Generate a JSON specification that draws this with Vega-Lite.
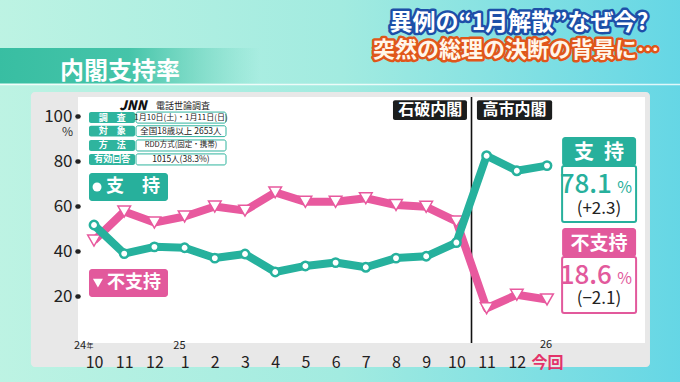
{
"$schema": "https://vega.github.io/schema/vega-lite/v6.json",
"width": 567, "height": 246,
"autosize": {"type": "none"},
"padding": {"left": 78, "top": 97, "right": 35, "bottom": 39},
"background": "#a3eadf",
"config": {"font": "Noto Sans CJK JP", "view": {"stroke": null}, "axis": {"zindex": 3, "grid": false, "domain": false, "labelOverlap": false, "labelFlush": false}},
"datasets": {
  "poll": [
    {"i": 0, "month": "2024-10", "support": 51.7, "nonsupport": 44.8},
    {"i": 1, "month": "2024-11", "support": 39.0, "nonsupport": 57.7},
    {"i": 2, "month": "2024-12", "support": 42.0, "nonsupport": 52.8},
    {"i": 3, "month": "2025-01", "support": 41.6, "nonsupport": 55.5},
    {"i": 4, "month": "2025-02", "support": 37.0, "nonsupport": 59.9},
    {"i": 5, "month": "2025-03", "support": 38.8, "nonsupport": 58.1},
    {"i": 6, "month": "2025-04", "support": 30.8, "nonsupport": 66.2},
    {"i": 7, "month": "2025-05", "support": 33.5, "nonsupport": 62.0},
    {"i": 8, "month": "2025-06", "support": 35.0, "nonsupport": 62.0},
    {"i": 9, "month": "2025-07", "support": 32.9, "nonsupport": 63.6},
    {"i": 10, "month": "2025-08", "support": 37.0, "nonsupport": 60.6},
    {"i": 11, "month": "2025-09", "support": 37.8, "nonsupport": 59.8},
    {"i": 12, "month": "2025-10", "support": 43.9, "nonsupport": 53.3},
    {"i": 13, "month": "2025-11", "support": 82.5, "nonsupport": 14.7},
    {"i": 14, "month": "2025-12", "support": 75.8, "nonsupport": 20.7},
    {"i": 15, "month": "2026-01", "support": 78.1, "nonsupport": 18.6}
  ]
},
"layer": [
  {"data": {"values": [{}]}, "mark": {"type": "rect", "fill": {"gradient": "linear", "x1": 0, "x2": 1, "y1": 0, "y2": 0, "stops": [{"offset": 0, "color": "#bdf3e3"}, {"offset": 0.5, "color": "#a2ebe0"}, {"offset": 1, "color": "#64d6e5"}]}},
   "encoding": {"x": {"datum": -3.2}, "x2": {"datum": 19.6}, "y": {"datum": 152}, "y2": {"datum": -18.2}}},
  {"data": {"values": [{}]}, "mark": {"type": "rect", "fill": {"gradient": "linear", "x1": 0, "x2": 1, "y1": 0, "y2": 0, "stops": [{"offset": 0, "color": "#38bea2"}, {"offset": 0.5, "color": "#45c4a9"}, {"offset": 1, "color": "rgba(90,205,180,0)"}]}},
   "encoding": {"x": {"datum": -3.2}, "x2": {"datum": 5.5}, "y": {"datum": 130.36}, "y2": {"datum": 114.58}}},
  {"data": {"values": [{}]}, "mark": {"type": "rule", "color": "white", "opacity": 0.8, "strokeWidth": 1.5},
   "encoding": {"x": {"datum": -3.2}, "x2": {"datum": 19.6}, "y": {"datum": 114.13}}},
  {"data": {"values": [{}]}, "mark": {"type": "text", "text": "内閣支持率", "fontSize": 24, "fontWeight": "bold", "color": "white", "align": "left", "baseline": "middle"},
   "encoding": {"x": {"datum": -1.126}, "y": {"datum": 119.9}}},
  {"data": {"values": [{}]}, "mark": {"type": "text", "text": "異例の“1月解散”なぜ今?", "fontSize": 23, "fontWeight": "bold", "color": "#1d4fa8", "stroke": "#1d4fa8", "strokeWidth": 5, "strokeJoin": "round", "align": "center", "baseline": "middle"},
   "encoding": {"x": {"datum": 14.07}, "y": {"datum": 141.5}}},
  {"data": {"values": [{}]}, "mark": {"type": "text", "text": "異例の“1月解散”なぜ今?", "fontSize": 23, "fontWeight": "bold", "color": "white", "align": "center", "baseline": "middle"},
   "encoding": {"x": {"datum": 14.07}, "y": {"datum": 141.5}}},
  {"data": {"values": [{}]}, "mark": {"type": "text", "text": "突然の総理の決断の背景に…", "fontSize": 22, "fontWeight": "bold", "color": "#e0561a", "stroke": "#e0561a", "strokeWidth": 5, "strokeJoin": "round", "align": "center", "baseline": "middle"},
   "encoding": {"x": {"datum": 13.97}, "y": {"datum": 129.5}}},
  {"data": {"values": [{}]}, "mark": {"type": "text", "text": "突然の総理の決断の背景に…", "fontSize": 22, "fontWeight": "bold", "color": "#fff6ea", "align": "center", "baseline": "middle"},
   "encoding": {"x": {"datum": 13.97}, "y": {"datum": 129.5}}},
  {"data": {"values": [{}]}, "mark": {"type": "rect", "fill": "#e8e8e8", "cornerRadius": 4},
   "encoding": {"x": {"datum": -2.09}, "x2": {"datum": 18.41}, "y": {"datum": 110.8}, "y2": {"datum": -11.42}}},
  {"data": {"values": [{}]}, "mark": {"type": "rect", "fill": "white"},
   "encoding": {"x": {"datum": -0.53}, "x2": {"datum": 18.245}, "y": {"datum": 108.6}, "y2": {"datum": -0.75}}},
  {"data": {"values": [{}]}, "mark": {"type": "rule", "color": "#111111", "strokeWidth": 1.6},
   "encoding": {"x": {"datum": 12.5}}},
  {"data": {"values": [{}]}, "mark": {"type": "rect", "fill": "#1b1d1d", "cornerRadius": 2},
   "encoding": {"x": {"datum": 9.9}, "x2": {"datum": 12.35}, "y": {"datum": 107.2}, "y2": {"datum": 98.4}}},
  {"data": {"values": [{}]}, "mark": {"type": "text", "text": "石破内閣", "fontSize": 16, "fontWeight": "bold", "color": "white", "align": "center", "baseline": "middle"},
   "encoding": {"x": {"datum": 11.13}, "y": {"datum": 102.8}}},
  {"data": {"values": [{}]}, "mark": {"type": "rect", "fill": "#1b1d1d", "cornerRadius": 2},
   "encoding": {"x": {"datum": 12.68}, "x2": {"datum": 15.17}, "y": {"datum": 107.2}, "y2": {"datum": 98.4}}},
  {"data": {"values": [{}]}, "mark": {"type": "text", "text": "高市内閣", "fontSize": 16, "fontWeight": "bold", "color": "white", "align": "center", "baseline": "middle"},
   "encoding": {"x": {"datum": 13.92}, "y": {"datum": 102.8}}},
  {"data": {"values": [{}]}, "mark": {"type": "text", "text": "JNN", "fontSize": 13, "fontStyle": "italic", "fontWeight": 900, "color": "#111111", "align": "center", "baseline": "middle"},
   "encoding": {"x": {"datum": 1.29}, "y": {"datum": 104.58}}},
  {"data": {"values": [{}]}, "mark": {"type": "text", "text": "電話世論調査", "fontSize": 9, "color": "#222222", "align": "left", "baseline": "middle"},
   "encoding": {"x": {"datum": 2.05}, "y": {"datum": 104.58}}},
  {"data": {"values": [{}]}, "mark": {"type": "rect", "fill": "#2fb49e", "cornerRadius": 2},
   "encoding": {"x": {"datum": -0.166}, "x2": {"datum": 1.358}, "y": {"datum": 101.9}, "y2": {"datum": 97.0}}},
  {"data": {"values": [{}]}, "mark": {"type": "rect", "fill": "#2fb49e", "cornerRadius": 2},
   "encoding": {"x": {"datum": -0.166}, "x2": {"datum": 1.358}, "y": {"datum": 95.8}, "y2": {"datum": 91.0}}},
  {"data": {"values": [{}]}, "mark": {"type": "rect", "fill": "#2fb49e", "cornerRadius": 2},
   "encoding": {"x": {"datum": -0.166}, "x2": {"datum": 1.358}, "y": {"datum": 89.5}, "y2": {"datum": 84.6}}},
  {"data": {"values": [{}]}, "mark": {"type": "rect", "fill": "#2fb49e", "cornerRadius": 2},
   "encoding": {"x": {"datum": -0.166}, "x2": {"datum": 1.358}, "y": {"datum": 83.3}, "y2": {"datum": 78.4}}},
  {"data": {"values": [{}]}, "mark": {"type": "rect", "fill": "white", "stroke": "#2fb49e", "strokeWidth": 1, "cornerRadius": 2},
   "encoding": {"x": {"datum": 1.391}, "x2": {"datum": 4.371}, "y": {"datum": 101.9}, "y2": {"datum": 97.0}}},
  {"data": {"values": [{}]}, "mark": {"type": "rect", "fill": "white", "stroke": "#2fb49e", "strokeWidth": 1, "cornerRadius": 2},
   "encoding": {"x": {"datum": 1.391}, "x2": {"datum": 4.371}, "y": {"datum": 95.8}, "y2": {"datum": 91.0}}},
  {"data": {"values": [{}]}, "mark": {"type": "rect", "fill": "white", "stroke": "#2fb49e", "strokeWidth": 1, "cornerRadius": 2},
   "encoding": {"x": {"datum": 1.391}, "x2": {"datum": 4.371}, "y": {"datum": 89.5}, "y2": {"datum": 84.6}}},
  {"data": {"values": [{}]}, "mark": {"type": "rect", "fill": "white", "stroke": "#2fb49e", "strokeWidth": 1, "cornerRadius": 2},
   "encoding": {"x": {"datum": 1.391}, "x2": {"datum": 4.371}, "y": {"datum": 83.3}, "y2": {"datum": 78.4}}},
  {"data": {"values": [{}]}, "mark": {"type": "text", "text": "調　査", "fontSize": 9, "fontWeight": "bold", "color": "white", "align": "center", "baseline": "middle"},
   "encoding": {"x": {"datum": 0.6}, "y": {"datum": 99.45}}},
  {"data": {"values": [{}]}, "mark": {"type": "text", "text": "対　象", "fontSize": 9, "fontWeight": "bold", "color": "white", "align": "center", "baseline": "middle"},
   "encoding": {"x": {"datum": 0.6}, "y": {"datum": 93.4}}},
  {"data": {"values": [{}]}, "mark": {"type": "text", "text": "方　法", "fontSize": 9, "fontWeight": "bold", "color": "white", "align": "center", "baseline": "middle"},
   "encoding": {"x": {"datum": 0.6}, "y": {"datum": 87.05}}},
  {"data": {"values": [{}]}, "mark": {"type": "text", "text": "有効回答", "fontSize": 9, "fontWeight": "bold", "color": "white", "align": "center", "baseline": "middle"},
   "encoding": {"x": {"datum": 0.6}, "y": {"datum": 80.85}}},
  {"data": {"values": [{}]}, "mark": {"type": "text", "text": "1月10日(土)・1月11日(日)", "fontSize": 8, "color": "#222222", "align": "center", "baseline": "middle"},
   "encoding": {"x": {"datum": 2.88}, "y": {"datum": 99.45}}},
  {"data": {"values": [{}]}, "mark": {"type": "text", "text": "全国18歳以上 2653人", "fontSize": 8.5, "color": "#222222", "align": "center", "baseline": "middle"},
   "encoding": {"x": {"datum": 2.88}, "y": {"datum": 93.4}}},
  {"data": {"values": [{}]}, "mark": {"type": "text", "text": "RDD方式(固定・携帯)", "fontSize": 7.5, "color": "#222222", "align": "center", "baseline": "middle"},
   "encoding": {"x": {"datum": 2.88}, "y": {"datum": 87.05}}},
  {"data": {"values": [{}]}, "mark": {"type": "text", "text": "1015人(38.3%)", "fontSize": 8.5, "color": "#222222", "align": "center", "baseline": "middle"},
   "encoding": {"x": {"datum": 2.88}, "y": {"datum": 80.85}}},
  {"data": {"values": [{}]}, "mark": {"type": "rect", "fill": "#27b09c", "cornerRadius": 3},
   "encoding": {"x": {"datum": -0.166}, "x2": {"datum": 2.45}, "y": {"datum": 74.8}, "y2": {"datum": 62.36}}},
  {"data": {"values": [{}]}, "mark": {"type": "point", "shape": "circle", "filled": true, "fill": "white", "opacity": 1, "size": 80, "strokeWidth": 0},
   "encoding": {"x": {"datum": 0.1}, "y": {"datum": 68.58}}},
  {"data": {"values": [{}]}, "mark": {"type": "text", "text": "支　持", "fontSize": 18, "fontWeight": "bold", "color": "white", "align": "left", "baseline": "middle"},
   "encoding": {"x": {"datum": 0.4}, "y": {"datum": 68.58}}},
  {"data": {"values": [{}]}, "mark": {"type": "rect", "fill": "#e2599c", "cornerRadius": 3},
   "encoding": {"x": {"datum": -0.166}, "x2": {"datum": 2.45}, "y": {"datum": 32.13}, "y2": {"datum": 19.69}}},
  {"data": {"values": [{}]}, "mark": {"type": "point", "shape": "triangle-down", "filled": true, "fill": "white", "opacity": 1, "size": 100, "strokeWidth": 0},
   "encoding": {"x": {"datum": 0.13}, "y": {"datum": 25.9}}},
  {"data": {"values": [{}]}, "mark": {"type": "text", "text": "不支持", "fontSize": 18, "fontWeight": "bold", "color": "white", "align": "left", "baseline": "middle"},
   "encoding": {"x": {"datum": 0.43}, "y": {"datum": 25.9}}},
  {"data": {"values": [{}]}, "mark": {"type": "text", "text": "24", "fontSize": 11, "color": "#222222", "align": "center", "baseline": "middle"},
   "encoding": {"x": {"datum": -0.46}, "y": {"datum": -2.3}}},
  {"data": {"values": [{}]}, "mark": {"type": "text", "text": "年", "fontSize": 7, "color": "#222222", "align": "center", "baseline": "middle"},
   "encoding": {"x": {"datum": -0.13}, "y": {"datum": -2.3}}},
  {"data": {"values": [{}]}, "mark": {"type": "text", "text": "25", "fontSize": 11, "color": "#222222", "align": "center", "baseline": "middle"},
   "encoding": {"x": {"datum": 2.83}, "y": {"datum": -2.1}}},
  {"data": {"values": [{}]}, "mark": {"type": "text", "text": "26", "fontSize": 11, "color": "#222222", "align": "center", "baseline": "middle"},
   "encoding": {"x": {"datum": 14.97}, "y": {"datum": -1.7}}},
  {"data": {"values": [{}]}, "mark": {"type": "rect", "fill": "#27b09c", "cornerRadius": 3},
   "encoding": {"x": {"datum": 15.5}, "x2": {"datum": 17.95}, "y": {"datum": 90.8}, "y2": {"datum": 77.9}}},
  {"data": {"values": [{}]}, "mark": {"type": "text", "text": "支\u2002持", "fontSize": 20, "fontWeight": "bold", "color": "white", "align": "center", "baseline": "middle"},
   "encoding": {"x": {"datum": 16.72}, "y": {"datum": 83.8}}},
  {"data": {"values": [{}]}, "mark": {"type": "rect", "fill": "white", "stroke": "#27b09c", "strokeWidth": 2, "cornerRadius": 2},
   "encoding": {"x": {"datum": 15.5}, "x2": {"datum": 17.95}, "y": {"datum": 77.9}, "y2": {"datum": 53.02}}},
  {"data": {"values": [{}]}, "mark": {"type": "text", "text": "78.1", "fontSize": 26, "fontWeight": 500, "color": "#27b09c", "align": "right", "baseline": "alphabetic"},
   "encoding": {"x": {"datum": 17.15}, "y": {"datum": 65.9}}},
  {"data": {"values": [{}]}, "mark": {"type": "text", "text": "%", "fontSize": 16, "color": "#27b09c", "align": "left", "baseline": "alphabetic"},
   "encoding": {"x": {"datum": 17.33}, "y": {"datum": 65.9}}},
  {"data": {"values": [{}]}, "mark": {"type": "text", "text": "(+2.3)", "fontSize": 17, "color": "#222222", "align": "center", "baseline": "middle"},
   "encoding": {"x": {"datum": 16.72}, "y": {"datum": 59.0}}},
  {"data": {"values": [{}]}, "mark": {"type": "rect", "fill": "#e2599c", "cornerRadius": 3},
   "encoding": {"x": {"datum": 15.5}, "x2": {"datum": 17.95}, "y": {"datum": 50.36}, "y2": {"datum": 37.47}}},
  {"data": {"values": [{}]}, "mark": {"type": "text", "text": "不支持", "fontSize": 19, "fontWeight": "bold", "color": "white", "align": "center", "baseline": "middle"},
   "encoding": {"x": {"datum": 16.72}, "y": {"datum": 43.3}}},
  {"data": {"values": [{}]}, "mark": {"type": "rect", "fill": "white", "stroke": "#e2599c", "strokeWidth": 2, "cornerRadius": 2},
   "encoding": {"x": {"datum": 15.5}, "x2": {"datum": 17.95}, "y": {"datum": 37.47}, "y2": {"datum": 12.58}}},
  {"data": {"values": [{}]}, "mark": {"type": "text", "text": "18.6", "fontSize": 26, "fontWeight": 500, "color": "#e2599c", "align": "right", "baseline": "alphabetic"},
   "encoding": {"x": {"datum": 17.15}, "y": {"datum": 25.69}}},
  {"data": {"values": [{}]}, "mark": {"type": "text", "text": "%", "fontSize": 16, "color": "#e2599c", "align": "left", "baseline": "alphabetic"},
   "encoding": {"x": {"datum": 17.33}, "y": {"datum": 25.69}}},
  {"data": {"values": [{}]}, "mark": {"type": "text", "text": "(−2.1)", "fontSize": 17, "color": "#222222", "align": "center", "baseline": "middle"},
   "encoding": {"x": {"datum": 16.72}, "y": {"datum": 19.02}}},
  {"data": {"name": "poll"}, "mark": {"type": "line", "color": "#e8599e", "strokeWidth": 8, "strokeJoin": "round"},
   "encoding": {"x": {"field": "i", "type": "quantitative"}, "y": {"field": "nonsupport", "type": "quantitative"}}},
  {"data": {"name": "poll"}, "mark": {"type": "point", "shape": "triangle-down", "filled": true, "fill": "white", "opacity": 1, "stroke": "#e8599e", "strokeWidth": 1.5, "size": 160},
   "encoding": {"x": {"field": "i", "type": "quantitative"}, "y": {"field": "nonsupport", "type": "quantitative"}}},
  {"data": {"name": "poll"}, "mark": {"type": "line", "color": "#26b19d", "strokeWidth": 8, "strokeJoin": "round"},
   "encoding": {
     "x": {"field": "i", "type": "quantitative", "scale": {"domain": [-0.53, 18.245], "nice": false, "zero": false},
           "axis": {"zindex": 3, "values": [0,1,2,3,4,5,6,7,8,9,10,11,12,13,14,15], "tickCount": 19, "tickMinStep": 1,
                    "labelExpr": "datum.value >= 0 && datum.value <= 15 ? ['10','11','12','1','2','3','4','5','6','7','8','9','10','11','12','今回'][datum.value] : ''",
                    "domain": false, "ticks": false, "tickSize": 0, "grid": false, "labelPadding": 11, "labelFontSize": 16, "labelFont": "Noto Sans CJK JP",
                    "labelColor": {"condition": {"test": "datum.value == 15", "value": "#e3336a"}, "value": "#222222"},
                    "labelFontWeight": {"condition": {"test": "datum.value == 15", "value": "bold"}, "value": "normal"},
                    "title": null, "labelFlush": false, "labelOverlap": false, "labelBound": false}},
     "y": {"field": "support", "type": "quantitative", "scale": {"domain": [-0.75, 108.6], "nice": false, "zero": false},
           "axis": {"zindex": 3, "values": [20, 40, 60, 80, 100], "domain": false, "grid": false, "ticks": true, "tickSize": 1, "tickWidth": 4.5, "tickCap": "round", "tickColor": "#222222",
                    "labelPadding": 5, "labelFontSize": 17, "labelColor": "#222222", "labelFont": "Noto Sans CJK JP",
                    "title": "%", "titleAngle": 0, "titleX": -11, "titleY": 34, "titleFontSize": 12, "titleFontWeight": "normal", "titleColor": "#333333", "titleAlign": "center", "titleBaseline": "middle"}}
   }},
  {"data": {"name": "poll"}, "mark": {"type": "point", "shape": "circle", "filled": true, "fill": "white", "opacity": 1, "stroke": "#26b19d", "strokeWidth": 2.5, "size": 70},
   "encoding": {"x": {"field": "i", "type": "quantitative"}, "y": {"field": "support", "type": "quantitative"}}}
]
}
